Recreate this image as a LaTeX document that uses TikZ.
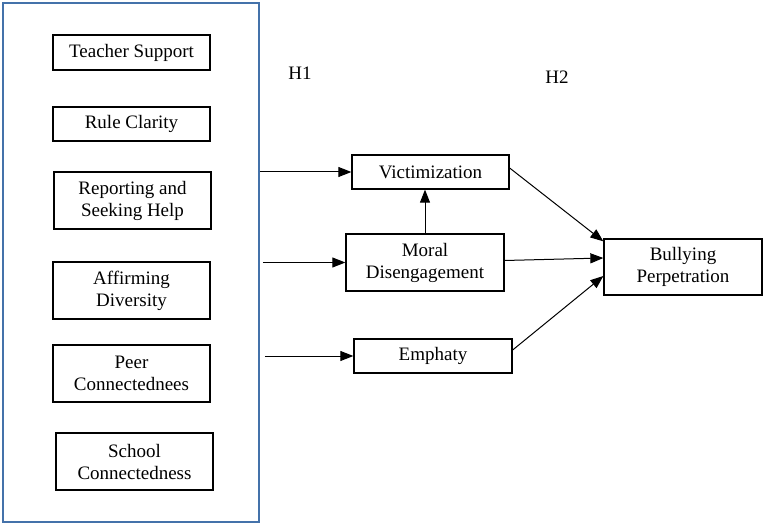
\documentclass[tikz,border=0pt]{standalone}
\usepackage{fontspec}
\setmainfont{Liberation Serif}
\usetikzlibrary{arrows.meta,calc}
\definecolor{frameblue}{RGB}{68,114,170}
\tikzset{
  varbox/.style={draw=black, line width=1.3pt, inner sep=0pt, align=center,
    font=\rmfamily\fontsize{19}{22}\selectfont, minimum width=157pt},
  path arrow/.style={line width=1pt, -{Triangle[length=13pt,width=10pt]}},
}

\begin{document}
\begin{tikzpicture}[x=1pt, y=-1pt]
			%%%%% START %%%%%
			\useasboundingbox (0, 0) rectangle (765, 526);

			% outer frame of the school climate factors
			\node[draw=frameblue, line width=1.6pt, minimum width=256pt, minimum height=519pt] (frame) at (131, 262.5) {};

			\node[varbox, minimum height=35pt] (teacher) at (131.5, 52.5) {Teacher Support};
			\node[varbox, minimum height=34pt] (rule) at (131.5, 124) {Rule Clarity};
			\node[varbox, minimum height=57pt] (report) at (132.5, 200.5) {Reporting and\\Seeking Help};
			\node[varbox, minimum height=57pt] (affirm) at (131.5, 290.5) {Affirming\\Diversity};
			\node[varbox, minimum height=57pt] (peer) at (131.5, 373.5) {Peer\\Connectednees};
			\node[varbox, minimum height=57pt] (school) at (134.5, 461.5) {School\\Connectedness};

			\node[varbox, minimum height=34pt] (vict) at (430.5, 172) {Victimization};
			\node[varbox, minimum height=57pt, minimum width=158pt] (moral) at (425, 262.5) {Moral\\Disengagement};
			\node[varbox, minimum height=34pt, minimum width=158pt] (emph) at (433, 356) {Emphaty};
			\node[varbox, minimum height=56pt, minimum width=158pt] (bully) at (683, 267) {Bullying\\Perpetration};

			\node[font=\rmfamily\fontsize{19}{22}\selectfont] (hone) at (300, 73) {H1};
			\node[font=\rmfamily\fontsize{19}{22}\selectfont] (htwo) at (557, 77) {H2};

			% paths
			\draw[path arrow] (frame.east |- vict.west) -- (vict.west);
			\draw[path arrow] ([xshift=3pt]frame.east |- moral.west) -- (moral.west);
			\draw[path arrow] ([xshift=5pt]frame.east |- emph.west) -- (emph.west);
			\draw[path arrow] (moral.north) -- (moral.north |- vict.south);

			\draw[path arrow] ([yshift=4pt]vict.east) -- ([yshift=-3pt]bully.north west);
			\draw[path arrow] ([yshift=2pt]moral.east) -- ([yshift=9pt]bully.west);
			\draw[path arrow] ([yshift=6pt]emph.east) -- ([yshift=-9pt]bully.west);
			%%%%% END %%%%%
\end{tikzpicture}
\end{document}
